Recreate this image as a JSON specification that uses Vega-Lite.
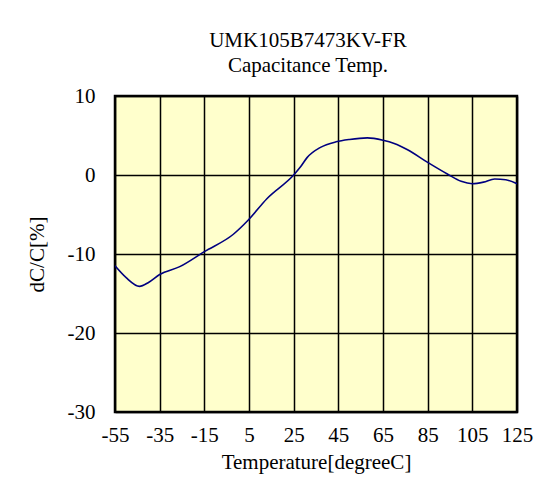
{
  "$schema": "https://vega.github.io/schema/vega-lite/v6.json",
  "autosize": {"type": "none"},
  "padding": {"left": 115, "top": 96, "right": 25, "bottom": 78},
  "width": 402,
  "height": 316,
  "background": "white",
  "title": {
    "text": ["UMK105B7473KV-FR", "Capacitance Temp."],
    "font": "Liberation Serif",
    "fontSize": 21,
    "fontWeight": "normal",
    "color": "black",
    "lineHeight": 25,
    "anchor": "middle",
    "offset": 9,
    "dx": -8
  },
  "config": {
    "view": {"fill": "#FFFFCC", "stroke": "black", "strokeWidth": 2.5},
    "axis": {
      "labelFont": "Liberation Serif",
      "labelFontSize": 21,
      "labelColor": "black",
      "titleFont": "Liberation Serif",
      "titleFontSize": 21,
      "titleFontWeight": "normal",
      "titleColor": "black",
      "domain": false,
      "ticks": false,
      "grid": true,
      "gridColor": "black",
      "gridWidth": 1.5,
      "gridOpacity": 1,
      "labelExpr": "'' + datum.value"
    }
  },
  "data": {
    "values": [
      {"T": -55, "dC": -11.5},
      {"T": -50, "dC": -13.0},
      {"T": -44, "dC": -14.1},
      {"T": -40, "dC": -13.6},
      {"T": -35, "dC": -12.6},
      {"T": -26, "dC": -11.6},
      {"T": -15, "dC": -9.7},
      {"T": -2, "dC": -7.5},
      {"T": 4.7, "dC": -5.7},
      {"T": 13, "dC": -3.0},
      {"T": 25, "dC": 0.0},
      {"T": 28, "dC": 1.0},
      {"T": 31, "dC": 2.2},
      {"T": 37, "dC": 3.5},
      {"T": 44, "dC": 4.2},
      {"T": 50, "dC": 4.5},
      {"T": 58, "dC": 4.7},
      {"T": 65, "dC": 4.4},
      {"T": 70, "dC": 4.0},
      {"T": 76, "dC": 3.2},
      {"T": 85, "dC": 1.6},
      {"T": 94, "dC": 0.1},
      {"T": 100, "dC": -0.8},
      {"T": 105, "dC": -1.1},
      {"T": 110, "dC": -0.9},
      {"T": 115, "dC": -0.5},
      {"T": 120, "dC": -0.6},
      {"T": 125, "dC": -1.1}
    ]
  },
  "mark": {"type": "line", "color": "#000080", "strokeWidth": 1.6, "interpolate": "monotone", "clip": true},
  "encoding": {
    "x": {
      "field": "T",
      "type": "quantitative",
      "scale": {"domain": [-55, 125], "nice": false, "zero": false},
      "axis": {
        "values": [-55, -35, -15, 5, 25, 45, 65, 85, 105, 125],
        "title": "Temperature[degreeC]",
        "labelPadding": 12,
        "titlePadding": 6,
        "labelFlush": false,
        "labelOverlap": false
      }
    },
    "y": {
      "field": "dC",
      "type": "quantitative",
      "scale": {"domain": [-30, 10], "nice": false, "zero": false},
      "axis": {
        "values": [-30, -20, -10, 0, 10],
        "title": "dC/C[%]",
        "labelPadding": 20,
        "titlePadding": 20,
        "labelFlush": false,
        "labelOverlap": false
      }
    }
  }
}
